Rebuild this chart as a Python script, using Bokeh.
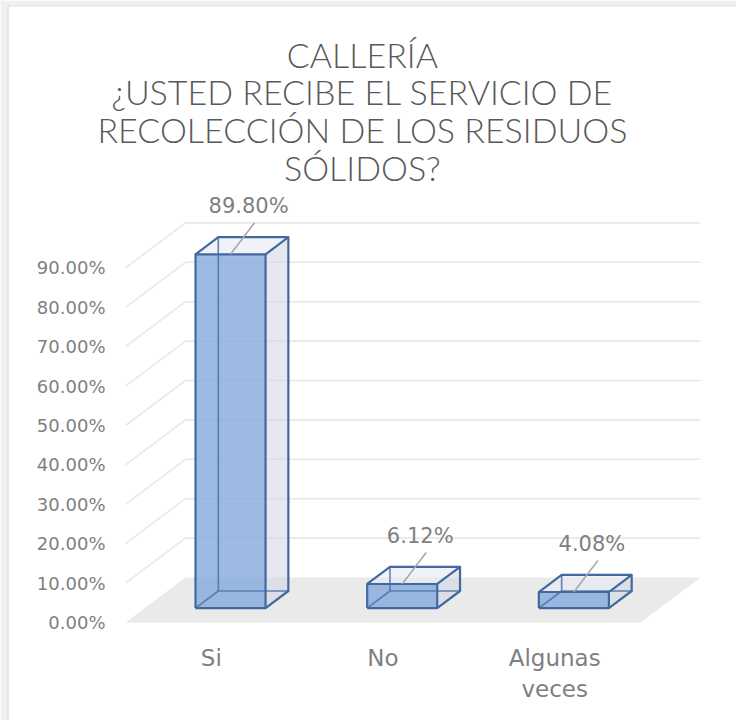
from bokeh.plotting import figure
from bokeh.models import Range1d
from bokeh.core.properties import value
from bokeh.embed import file_html
from bokeh.resources import INLINE

# ---- data ----
title_lines = ["CALLERÍA", "¿USTED RECIBE EL SERVICIO DE", "RECOLECCIÓN DE LOS RESIDUOS", "SÓLIDOS?"]
categories = ["Si", "No", "Algunas veces"]
values = [89.80, 6.12, 4.08]
tick_values = [0, 10, 20, 30, 40, 50, 60, 70, 80, 90]
tick_labels = ["0.00%", "10.00%", "20.00%", "30.00%", "40.00%", "50.00%", "60.00%", "70.00%", "80.00%", "90.00%"]
value_labels = ["89.80%", "6.12%", "4.08%"]

# ---- layout / style ----
W, H = 736, 720
PX_PER_CAT = 171.67   # pixels per category
PX_PER_PCT = 3.94     # pixels per percent
FLOOR_LEFT_PX = 125   # floor front-left edge from figure left
FLOOR_Y_PX = 622      # floor front edge from figure top
DX = 60 / PX_PER_CAT   # depth projection (x)
DY = 45 / PX_PER_PCT   # depth projection (y)
BAR_W = 0.408
D0, D1 = 0.32, 0.70
FONT = "DejaVu Sans"
GRAY = "#7f7f7f"
EDGE = "#41699f"

x_start = -0.5 - FLOOR_LEFT_PX / PX_PER_CAT
x_end = x_start + W / PX_PER_CAT
y_end = FLOOR_Y_PX / PX_PER_PCT
y_start = y_end - H / PX_PER_PCT

def px_x(px):
    return x_start + px / PX_PER_CAT

def px_y(py):
    return y_end - py / PX_PER_PCT

p = figure(width=W, height=H, output_backend="svg", toolbar_location=None,
           x_range=Range1d(x_start, x_end), y_range=Range1d(y_start, y_end),
           min_border=0, outline_line_color=None)
p.axis.visible = False
p.grid.visible = False
p.background_fill_color = "white"
p.border_fill_color = "white"

# chart-area frame (light gray edge at left/top)
p.quad(left=[px_x(0), px_x(0)], right=[px_x(7), px_x(W)], bottom=[px_y(H), px_y(5)],
       top=[px_y(0), px_y(0)], fill_color="#f0f0f0", line_color=None)
p.line([px_x(7.5), px_x(7.5), px_x(W)], [px_y(H), px_y(5.5), px_y(5.5)],
       line_color="#d9d9d9", line_width=1.2)

n = len(categories)
xl, xr = -0.5, n - 0.5

def P(x, y, d):
    return (x + d * DX, y + d * DY)

# floor
fl = [P(xl, 0, 0), P(xr, 0, 0), P(xr, 0, 1), P(xl, 0, 1)]
p.patch([q[0] for q in fl], [q[1] for q in fl], fill_color="#eaeaea", line_color=None)

# gridlines (side diagonal + back horizontal)
for t in tick_values[1:]:
    a, b, c = P(xl, t, 0), P(xl, t, 1), P(xr, t, 1)
    p.line([a[0], b[0], c[0]], [a[1], b[1], c[1]], line_color="#e8e8e8", line_width=1.6)

# tick labels
p.text(x=[xl - 20 / PX_PER_CAT] * len(tick_values), y=tick_values, text=tick_labels,
       text_align="right", text_baseline="middle", text_color=GRAY,
       text_font=value(FONT), text_font_size="18px")

# bars
for i, v in enumerate(values):
    x0, x1 = i - BAR_W / 2, i + BAR_W / 2
    def poly(pts, color, alpha=1.0):
        p.patch([q[0] for q in pts], [q[1] for q in pts], fill_color=color,
                fill_alpha=alpha, line_color=None)
    right = [P(x1, 0, D0), P(x1, 0, D1), P(x1, v, D1), P(x1, v, D0)]
    top = [P(x0, v, D0), P(x1, v, D0), P(x1, v, D1), P(x0, v, D1)]
    front = [P(x0, 0, D0), P(x1, 0, D0), P(x1, v, D0), P(x0, v, D0)]
    poly(right, "#cfd6e0", 0.55)
    poly(top, "#e6eaf1", 0.6)
    poly(front, "#84aadb", 0.8)
    hidden = [
        [P(x0, 0, D0), P(x0, 0, D1), P(x1, 0, D1)],
        [P(x0, 0, D1), P(x0, v, D1)],
    ]
    for seg in hidden:
        p.line([q[0] for q in seg], [q[1] for q in seg], line_color="#4e78ad", line_width=1.6, line_alpha=0.9)
    visible = [
        front + [front[0]],
        [P(x1, 0, D0), P(x1, 0, D1), P(x1, v, D1), P(x1, v, D0)],
        [P(x0, v, D0), P(x0, v, D1), P(x1, v, D1)],
    ]
    for seg in visible:
        p.line([q[0] for q in seg], [q[1] for q in seg], line_color=EDGE, line_width=2.2, line_join="round")

# data labels with leader lines
LX, LY = 0.14, 8.0
tops = [P(i, v, D0) for i, v in enumerate(values)]
for (tx, ty) in tops:
    p.line([tx, tx + LX], [ty, ty + LY], line_color="#a6a6a6", line_width=1.5)
p.text(x=[tx + 0.105 for tx, ty in tops], y=[ty + 12.3 for tx, ty in tops], text=value_labels,
       text_align="center", text_baseline="middle", text_color=GRAY,
       text_font=value(FONT), text_font_size="21px")

# category labels
p.text(x=list(range(n)), y=[-5.6] * n, text=[c.replace(" ", "\n") for c in categories],
       text_align="center", text_baseline="top", text_color=GRAY,
       text_font=value(FONT), text_font_size="23px", text_line_height=1.2)

# title
title_y0 = (FLOOR_Y_PX - 53.5) / PX_PER_PCT
p.text(x=[0.88] * len(title_lines), y=[title_y0 - k * 37.7 / PX_PER_PCT for k in range(len(title_lines))],
       text=title_lines, text_align="center", text_baseline="middle", text_color="#595959",
       text_font=value("Lato Light"), text_font_size="34px")

open("out.html", "w").write(file_html(p, INLINE))
